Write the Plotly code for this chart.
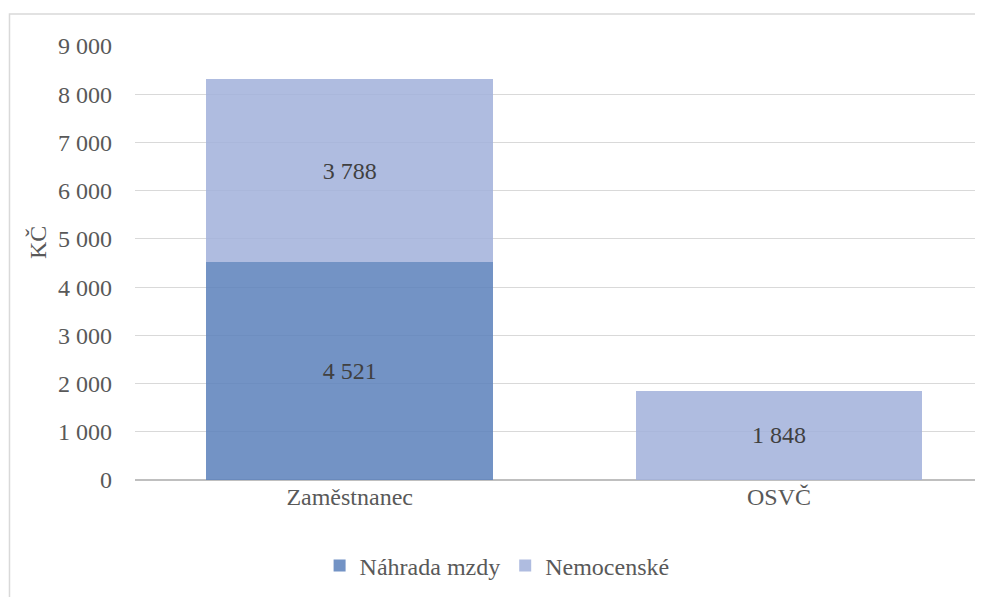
import plotly.graph_objects as go

categories = ["Zaměstnanec", "OSVČ"]
nahrada_mzdy = [4521, None]
nemocenske = [3788, 1848]
y_ticks = [0, 1000, 2000, 3000, 4000, 5000, 6000, 7000, 8000, 9000]

FONT = "Liberation Serif"
FS = 24

fig = go.Figure()
fig.add_trace(go.Bar(
    name="Náhrada mzdy", x=categories, y=nahrada_mzdy,
    marker=dict(color="rgba(90,128,187,0.85)", line=dict(width=0)),
    texttemplate="%{y:,.0f}", textposition="inside", insidetextanchor="middle",
    textfont=dict(family=FONT, size=FS, color="#404040"), width=0.668,
))
fig.add_trace(go.Bar(
    name="Nemocenské", x=categories, y=nemocenske,
    marker=dict(color="rgba(161,176,219,0.85)", line=dict(width=0)),
    texttemplate="%{y:,.0f}", textposition="inside", insidetextanchor="middle",
    textfont=dict(family=FONT, size=FS, color="#404040"), width=0.668,
))

fig.update_layout(
    width=975, height=589,
    margin=dict(l=127, r=0, t=38, b=117),
    barmode="stack",
    separators=", ",
    paper_bgcolor="white", plot_bgcolor="white",
    font=dict(family=FONT, size=FS, color="#595959"),
    showlegend=True,
    legend=dict(orientation="h", x=0.427, xanchor="center", y=-0.198, yanchor="middle",
                font=dict(family=FONT, size=FS, color="#595959"), traceorder="normal",
                itemwidth=30),
    xaxis=dict(range=[-0.5, 1.475], showgrid=False, showline=False, ticks="",
               tickfont=dict(family=FONT, size=FS, color="#595959")),
    yaxis=dict(range=[0, 9000], tickvals=y_ticks, tickformat=",.0f",
               showgrid=True, gridcolor="#D9D9D9", gridwidth=1.3,
               zeroline=True, zerolinecolor="#BFBFBF", zerolinewidth=1.5,
               showline=False, ticks="", ticklabelstandoff=22,
               tickfont=dict(family=FONT, size=FS, color="#595959")),
    shapes=[dict(type="rect", xref="paper", yref="paper",
                 x0=-0.148, x1=1.5, y0=-0.5, y1=1.0737,
                 line=dict(color="#D9D9D9", width=1.5), fillcolor="rgba(0,0,0,0)",
                 layer="below")],
    annotations=[dict(text="KČ", xref="paper", yref="paper", x=-0.132, y=0.546,
                      textangle=-90, showarrow=False,
                      font=dict(family=FONT, size=FS, color="#595959"))],
)

fig.write_html("out.html")
